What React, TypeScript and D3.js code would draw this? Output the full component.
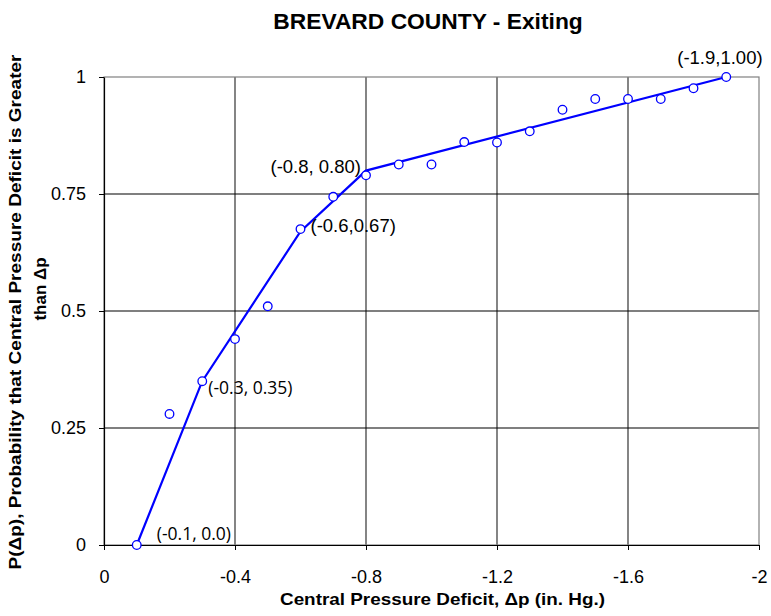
import { useEffect, useRef } from 'react'
import * as d3 from 'd3'

// observed points: deficit (in. Hg., negative) vs probability
const deficits = [-0.1, -0.2, -0.3, -0.4, -0.5, -0.6, -0.7, -0.8, -0.9, -1.0, -1.1, -1.2, -1.3, -1.4, -1.5, -1.6, -1.7, -1.8, -1.9]
const probs = [0.0, 0.28, 0.35, 0.44, 0.51, 0.675, 0.744, 0.79, 0.813, 0.813, 0.861, 0.86, 0.884, 0.93, 0.953, 0.953, 0.953, 0.976, 1.0]

// piecewise fit line
const fitX = [-0.1, -0.3, -0.6, -0.8, -1.9]
const fitY = [0.0, 0.35, 0.67, 0.8, 1.0]
const fitLabels = ['(-0.1, 0.0)', '(-0.3, 0.35)', '(-0.6,0.67)', '(-0.8, 0.80)', '(-1.9,1.00)']

const xTicks = [0, -0.4, -0.8, -1.2, -1.6, -2]
const yTicks = [0, 0.25, 0.5, 0.75, 1]

const arial = 'Liberation Sans, Arial, sans-serif'
const calibriLike = 'Open Sans, Noto Sans, sans-serif'

const App = () => {
  const ref = useRef<SVGSVGElement>(null)

  useEffect(() => {
    const w = 771
    const h = 616
    const m = { left: 104, right: 759, top: 77, bottom: 545 }
    const svg = d3.select(ref.current)
    svg.selectAll('*').remove()
    svg.attr('width', w).attr('height', h)

    const x = d3.scaleLinear().domain([0, -2]).range([m.left, m.right])
    const y = d3.scaleLinear().domain([0, 1]).range([m.bottom, m.top])

    // grid
    svg.append('g')
      .selectAll('line')
      .data(xTicks.slice(1, -1))
      .enter().append('line')
      .attr('x1', d => x(d)).attr('x2', d => x(d))
      .attr('y1', m.top).attr('y2', m.bottom)
      .attr('stroke', '#333').attr('stroke-width', 1.2)
    svg.append('g')
      .selectAll('line')
      .data(yTicks.slice(1, -1))
      .enter().append('line')
      .attr('x1', m.left).attr('x2', m.right)
      .attr('y1', d => y(d)).attr('y2', d => y(d))
      .attr('stroke', '#000').attr('stroke-width', 1.2)

    // frame
    svg.append('rect')
      .attr('x', m.left).attr('y', m.top)
      .attr('width', m.right - m.left).attr('height', m.bottom - m.top)
      .attr('fill', 'none').attr('stroke', '#808080').attr('stroke-width', 1.2)

    // axes
    const xAxis = d3.axisBottom(x).tickValues(xTicks).tickSize(5).tickSizeOuter(0)
      .tickFormat(d => String(d))
    const gx = svg.append('g').attr('transform', `translate(0, ${m.bottom})`).call(xAxis)
    gx.attr('font-size', null).attr('font-family', null)
    gx.select('.domain').attr('stroke', '#000').attr('stroke-width', 1.2)
    gx.selectAll('.tick line').attr('stroke', '#000')
    gx.selectAll('.tick text')
      .attr('font-family', arial)
      .attr('font-size', 18).attr('fill', '#000').attr('y', 38).attr('dy', null)

    const yAxis = d3.axisLeft(y).tickValues(yTicks).tickSize(5).tickSizeOuter(0)
      .tickFormat(d => String(d))
    const gy = svg.append('g').attr('transform', `translate(${m.left}, 0)`).call(yAxis)
    gy.attr('font-size', null).attr('font-family', null)
    gy.select('.domain').attr('stroke', '#000').attr('stroke-width', 1.2)
    gy.selectAll('.tick line').attr('stroke', '#000')
    gy.selectAll('.tick text')
      .attr('font-family', arial)
      .attr('font-size', 18).attr('fill', '#000').attr('x', -18)

    // fit line
    const fit = fitX.map((v, i) => [v, fitY[i]] as [number, number])
    svg.append('path')
      .datum(fit)
      .attr('d', d3.line<[number, number]>().x(d => x(d[0])).y(d => y(d[1])))
      .attr('fill', 'none').attr('stroke', '#0000FF').attr('stroke-width', 2.2)

    // points
    svg.append('g')
      .selectAll('circle')
      .data(deficits)
      .enter().append('circle')
      .attr('cx', d => x(d))
      .attr('cy', (_, i) => y(probs[i]))
      .attr('r', 4.3)
      .attr('fill', '#fff').attr('stroke', '#0000FF').attr('stroke-width', 1.3)

    // labels for breakpoints
    const offs = [[20, -5, 'start'], [6, 13, 'start'], [10, 1, 'start'], [-5, 2, 'end'], [-49, -13, 'start']] as const
    const fonts = [calibriLike, calibriLike, arial, arial, arial]
    svg.append('g')
      .selectAll('text')
      .data(fitLabels)
      .enter().append('text')
      .attr('x', (_, i) => x(fitX[i]) + offs[i][0])
      .attr('y', (_, i) => y(fitY[i]) + offs[i][1])
      .attr('text-anchor', (_, i) => offs[i][2])
      .attr('font-family', (_, i) => fonts[i])
      .attr('font-size', (_, i) => (i < 2 ? 17.5 : 18.5)).attr('fill', '#000')
      .text(d => d)

    // titles
    svg.append('text')
      .attr('x', 428).attr('y', 29)
      .attr('text-anchor', 'middle')
      .attr('font-family', arial)
      .attr('font-weight', 'bold').attr('font-size', 22.8)
      .text('BREVARD COUNTY - Exiting')

    svg.append('text')
      .attr('x', 280).attr('y', 605)
      .attr('textLength', 325).attr('lengthAdjust', 'spacingAndGlyphs')
      .attr('font-family', arial)
      .attr('font-weight', 'bold').attr('font-size', 17)
      .text('Central Pressure Deficit, \u0394p (in. Hg.)')

    svg.append('text')
      .attr('transform', 'translate(21, 312) rotate(-90)')
      .attr('text-anchor', 'middle')
      .attr('textLength', 515).attr('lengthAdjust', 'spacingAndGlyphs')
      .attr('font-family', arial)
      .attr('font-weight', 'bold').attr('font-size', 17)
      .text('P(\u0394p), Probability that Central Pressure Deficit is Greater')
    svg.append('text')
      .attr('transform', 'translate(46, 289) rotate(-90)')
      .attr('text-anchor', 'middle')
      .attr('font-family', arial)
      .attr('font-weight', 'bold').attr('font-size', 17)
      .text('than \u0394p')
  }, [])

  return (
    <svg ref={ref} style={{ position: 'absolute', left: 0, top: 0, background: '#fff' }}></svg>
  )
}

export default App
